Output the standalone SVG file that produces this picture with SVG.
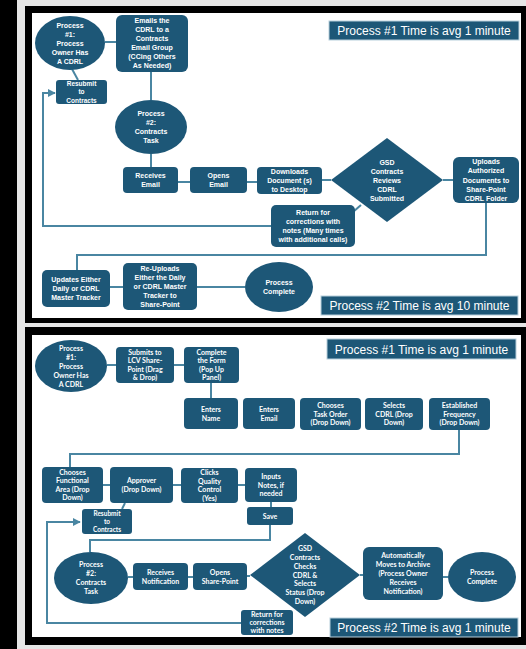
<svg xmlns="http://www.w3.org/2000/svg" width="526" height="649" viewBox="0 0 526 649">
<defs>
<style>
.n{fill:#1d5777;}
.lb{fill:#1d5777;stroke:#b8cfdc;stroke-width:1;}
.t{font-family:"Liberation Sans",Arial,sans-serif;font-size:7px;font-weight:bold;fill:#ffffff;text-anchor:middle;}
.t2{font-family:Lato,"Liberation Sans",sans-serif;font-size:7px;font-weight:bold;fill:#ffffff;text-anchor:middle;}
.lt{font-family:"Liberation Sans",Arial,sans-serif;font-size:12px;fill:#ffffff;text-anchor:middle;}
.c{fill:none;stroke:#4a86a2;stroke-width:2;}
</style>
<marker id="ah" viewBox="0 0 10 10" refX="9" refY="5" markerWidth="4" markerHeight="4" orient="auto">
<path d="M0,0 L10,5 L0,10 z" fill="#4a86a2"/>
</marker>
</defs>
<rect x="0" y="0" width="526" height="649" fill="#e6e6e6"/>
<rect x="0" y="0" width="17" height="649" fill="#000"/>
<rect x="25" y="6" width="501" height="317" fill="#000"/>
<rect x="32" y="13" width="489" height="305" fill="#fff"/>
<rect x="25" y="327" width="501" height="318" fill="#000"/>
<rect x="32" y="335" width="489" height="302" fill="#fff"/>

<g id="connectors">
<line class="c" x1="105" y1="42" x2="116" y2="42"/>
<line class="c" x1="72" y1="69" x2="78" y2="80"/>
<line class="c" x1="151" y1="72" x2="151" y2="100"/>
<line class="c" x1="151" y1="154" x2="151" y2="167"/>
<line class="c" x1="178" y1="182" x2="190" y2="182"/>
<line class="c" x1="247" y1="182" x2="257" y2="182"/>
<line class="c" x1="322" y1="180" x2="331" y2="180"/>
<line class="c" x1="443" y1="180" x2="453" y2="180"/>
<line class="c" x1="361" y1="205" x2="353" y2="212"/>
<path class="c" d="M272,226 H43 V93 H55" marker-end="url(#ah)"/>
<path class="c" d="M486,203 V255 H77 V270"/>
<line class="c" x1="110" y1="287" x2="123" y2="287"/>
<line class="c" x1="197" y1="287" x2="245" y2="287"/>

<line class="c" x1="107" y1="365" x2="116" y2="365"/>
<line class="c" x1="174" y1="365" x2="184" y2="365"/>
<line class="c" x1="211" y1="383" x2="211" y2="398"/>
<path class="c" d="M459,430 V454 H70 V467"/>
<line class="c" x1="103" y1="485" x2="110" y2="485"/>
<line class="c" x1="173" y1="485" x2="181" y2="485"/>
<line class="c" x1="238" y1="485" x2="245" y2="485"/>
<line class="c" x1="271" y1="502" x2="271" y2="507"/>
<line class="c" x1="125" y1="503" x2="122" y2="509"/>
<path class="c" d="M270,525 V540 H90 V552"/>
<path class="c" d="M241,623 H47 V522 H80" marker-end="url(#ah)"/>
<line class="c" x1="128" y1="577" x2="133" y2="577"/>
<line class="c" x1="188" y1="577" x2="193" y2="577"/>
<line class="c" x1="247" y1="576" x2="250" y2="576"/>
<line class="c" x1="360" y1="575" x2="363" y2="575"/>
<line class="c" x1="443" y1="577" x2="448" y2="577"/>
</g>

<!-- Panel 1 -->
<g id="p1-label1"><rect class="lb" x="329" y="21" width="190" height="19"/><text class="lt" x="424" y="35">Process #1 Time is avg 1 minute</text></g>
<g id="p1-process1"><ellipse class="n" cx="70" cy="43" rx="35" ry="27"/>
<text class="t" x="70" y="27.5"><tspan x="70">Process</tspan><tspan x="70" dy="9">#1:</tspan><tspan x="70" dy="9">Process</tspan><tspan x="70" dy="9">Owner Has</tspan><tspan x="70" dy="9">A CDRL</tspan></text></g>
<g id="p1-emails"><rect class="n" x="116" y="15" width="72" height="57" rx="6"/>
<text class="t" x="152" y="23"><tspan x="152">Emails the</tspan><tspan x="152" dy="9">CDRL to a</tspan><tspan x="152" dy="9">Contracts</tspan><tspan x="152" dy="9">Email Group</tspan><tspan x="152" dy="9">(CCing Others</tspan><tspan x="152" dy="9">As Needed)</tspan></text></g>
<g id="p1-resubmit"><rect class="n" x="56" y="80" width="51" height="24" rx="3"/>
<text class="t" x="81.5" y="85.8" style="font-size:6.5px"><tspan x="81.5">Resubmit</tspan><tspan x="81.5" dy="8.5">to</tspan><tspan x="81.5" dy="8.5">Contracts</tspan></text></g>
<g id="p1-process2"><ellipse class="n" cx="151" cy="127" rx="36" ry="27"/>
<text class="t" x="151" y="116"><tspan x="151">Process</tspan><tspan x="151" dy="9">#2:</tspan><tspan x="151" dy="9">Contracts</tspan><tspan x="151" dy="9">Task</tspan></text></g>
<g id="p1-receives"><rect class="n" x="123" y="167" width="55" height="26" rx="4"/>
<text class="t" x="150.5" y="178"><tspan x="150.5">Receives</tspan><tspan x="150.5" dy="9">Email</tspan></text></g>
<g id="p1-opens"><rect class="n" x="190" y="167" width="57" height="26" rx="4"/>
<text class="t" x="218.5" y="178"><tspan x="218.5">Opens</tspan><tspan x="218.5" dy="9">Email</tspan></text></g>
<g id="p1-downloads"><rect class="n" x="257" y="167" width="65" height="27" rx="4"/>
<text class="t" x="289.5" y="174"><tspan x="289.5">Downloads</tspan><tspan x="289.5" dy="9">Document (s)</tspan><tspan x="289.5" dy="9">to Desktop</tspan></text></g>
<g id="p1-gsd"><polygon class="n" points="387,138 443,180 387,222 331,180"/>
<text class="t" x="387" y="164.5"><tspan x="387">GSD</tspan><tspan x="387" dy="9">Contracts</tspan><tspan x="387" dy="9">Reviews</tspan><tspan x="387" dy="9">CDRL</tspan><tspan x="387" dy="9">Submitted</tspan></text></g>
<g id="p1-uploads"><rect class="n" x="453" y="157" width="66" height="46" rx="6"/>
<text class="t" x="486" y="164"><tspan x="486">Uploads</tspan><tspan x="486" dy="9.3">Authorized</tspan><tspan x="486" dy="9.3">Documents to</tspan><tspan x="486" dy="9.3">Share-Point</tspan><tspan x="486" dy="9.3">CDRL Folder</tspan></text></g>
<g id="p1-return"><rect class="n" x="271" y="205" width="84" height="42" rx="5"/>
<text class="t" x="313" y="215"><tspan x="313">Return for</tspan><tspan x="313" dy="9">corrections with</tspan><tspan x="313" dy="9">notes (Many times</tspan><tspan x="313" dy="9">with additional calls)</tspan></text></g>
<g id="p1-updates"><rect class="n" x="42" y="270" width="68" height="37" rx="5"/>
<text class="t" x="76" y="282"><tspan x="76">Updates Either</tspan><tspan x="76" dy="9">Daily or CDRL</tspan><tspan x="76" dy="9">Master Tracker</tspan></text></g>
<g id="p1-reuploads"><rect class="n" x="123" y="263" width="74" height="47" rx="5"/>
<text class="t" x="160" y="271"><tspan x="160">Re-Uploads</tspan><tspan x="160" dy="9">Either the Daily</tspan><tspan x="160" dy="9">or CDRL Master</tspan><tspan x="160" dy="9">Tracker to</tspan><tspan x="160" dy="9">Share-Point</tspan></text></g>
<g id="p1-complete"><ellipse class="n" cx="279" cy="287" rx="34" ry="25"/>
<text class="t" x="279" y="285"><tspan x="279">Process</tspan><tspan x="279" dy="9">Complete</tspan></text></g>
<g id="p1-label2"><rect class="lb" x="321" y="296" width="197" height="19"/><text class="lt" x="419.5" y="310">Process #2 Time is avg 10 minute</text></g>

<!-- Panel 2 -->
<g id="p2-label1"><rect class="lb" x="327" y="339" width="189" height="20"/><text class="lt" x="421.5" y="354">Process #1 Time is avg 1 minute</text></g>
<g id="p2-process1"><ellipse class="n" cx="71" cy="366" rx="36" ry="26"/>
<text class="t2" x="71" y="350.5"><tspan x="71">Process</tspan><tspan x="71" dy="9">#1:</tspan><tspan x="71" dy="9">Process</tspan><tspan x="71" dy="9">Owner Has</tspan><tspan x="71" dy="9">A CDRL</tspan></text></g>
<g id="p2-submits"><rect class="n" x="116" y="347" width="58" height="36" rx="4"/>
<text class="t2" x="145" y="354.8"><tspan x="145">Submits to</tspan><tspan x="145" dy="8.5">LCV Share-</tspan><tspan x="145" dy="8.5">Point (Drag</tspan><tspan x="145" dy="8.5">&amp; Drop)</tspan></text></g>
<g id="p2-complete-form"><rect class="n" x="184" y="347" width="55" height="36" rx="4"/>
<text class="t2" x="211.5" y="354.8"><tspan x="211.5">Complete</tspan><tspan x="211.5" dy="8.5">the Form</tspan><tspan x="211.5" dy="8.5">(Pop Up</tspan><tspan x="211.5" dy="8.5">Panel)</tspan></text></g>
<g id="p2-name"><rect class="n" x="184" y="398" width="54" height="31" rx="4"/>
<text class="t2" x="211" y="411.5"><tspan x="211">Enters</tspan><tspan x="211" dy="9">Name</tspan></text></g>
<g id="p2-email"><rect class="n" x="243" y="398" width="52" height="31" rx="4"/>
<text class="t2" x="269" y="411.5"><tspan x="269">Enters</tspan><tspan x="269" dy="9">Email</tspan></text></g>
<g id="p2-taskorder"><rect class="n" x="300" y="398" width="61" height="32" rx="4"/>
<text class="t2" x="330.5" y="408"><tspan x="330.5">Chooses</tspan><tspan x="330.5" dy="8.5">Task Order</tspan><tspan x="330.5" dy="8.5">(Drop Down)</tspan></text></g>
<g id="p2-selects"><rect class="n" x="365" y="398" width="58" height="32" rx="4"/>
<text class="t2" x="394" y="408"><tspan x="394">Selects</tspan><tspan x="394" dy="8.5">CDRL (Drop</tspan><tspan x="394" dy="8.5">Down)</tspan></text></g>
<g id="p2-frequency"><rect class="n" x="429" y="398" width="61" height="32" rx="4"/>
<text class="t2" x="459.5" y="408"><tspan x="459.5">Established</tspan><tspan x="459.5" dy="8.5">Frequency</tspan><tspan x="459.5" dy="8.5">(Drop Down)</tspan></text></g>
<g id="p2-functional"><rect class="n" x="42" y="467" width="61" height="36" rx="4"/>
<text class="t2" x="72.5" y="474.8"><tspan x="72.5">Chooses</tspan><tspan x="72.5" dy="8.5">Functional</tspan><tspan x="72.5" dy="8.5">Area (Drop</tspan><tspan x="72.5" dy="8.5">Down)</tspan></text></g>
<g id="p2-approver"><rect class="n" x="110" y="467" width="63" height="36" rx="4"/>
<text class="t2" x="141.5" y="483"><tspan x="141.5">Approver</tspan><tspan x="141.5" dy="9">(Drop Down)</tspan></text></g>
<g id="p2-quality"><rect class="n" x="181" y="468" width="57" height="35" rx="4"/>
<text class="t2" x="209.5" y="475.3"><tspan x="209.5">Clicks</tspan><tspan x="209.5" dy="8.5">Quality</tspan><tspan x="209.5" dy="8.5">Control</tspan><tspan x="209.5" dy="8.5">(Yes)</tspan></text></g>
<g id="p2-inputs"><rect class="n" x="245" y="468" width="52" height="34" rx="4"/>
<text class="t2" x="271" y="479"><tspan x="271">Inputs</tspan><tspan x="271" dy="8.5">Notes, if</tspan><tspan x="271" dy="8.5">needed</tspan></text></g>
<g id="p2-save"><rect class="n" x="247" y="507" width="46" height="18" rx="3"/>
<text class="t2" x="270" y="518.5">Save</text></g>
<g id="p2-resubmit"><rect class="n" x="82" y="509" width="50" height="25" rx="3"/>
<text class="t2" x="107" y="515.8" style="font-size:6.5px"><tspan x="107">Resubmit</tspan><tspan x="107" dy="8">to</tspan><tspan x="107" dy="8">Contracts</tspan></text></g>
<g id="p2-process2"><ellipse class="n" cx="91" cy="578" rx="37" ry="26"/>
<text class="t2" x="91" y="567"><tspan x="91">Process</tspan><tspan x="91" dy="9">#2:</tspan><tspan x="91" dy="9">Contracts</tspan><tspan x="91" dy="9">Task</tspan></text></g>
<g id="p2-receives"><rect class="n" x="133" y="563" width="55" height="27" rx="4"/>
<text class="t2" x="160.5" y="574.5"><tspan x="160.5">Receives</tspan><tspan x="160.5" dy="9">Notification</tspan></text></g>
<g id="p2-opens"><rect class="n" x="193" y="563" width="54" height="27" rx="4"/>
<text class="t2" x="220" y="574.5"><tspan x="220">Opens</tspan><tspan x="220" dy="9">Share-Point</tspan></text></g>
<g id="p2-gsd"><polygon class="n" points="305,533 360,575 305,617 250,575"/>
<text class="t2" x="305" y="551.1"><tspan x="305">GSD</tspan><tspan x="305" dy="8.8">Contracts</tspan><tspan x="305" dy="8.8">Checks</tspan><tspan x="305" dy="8.8">CDRL &amp;</tspan><tspan x="305" dy="8.8">Selects</tspan><tspan x="305" dy="8.8">Status (Drop</tspan><tspan x="305" dy="8.8">Down)</tspan></text></g>
<g id="p2-archive"><rect class="n" x="363" y="547" width="80" height="53" rx="6"/>
<text class="t2" x="403" y="558"><tspan x="403">Automatically</tspan><tspan x="403" dy="9">Moves to Archive</tspan><tspan x="403" dy="9">(Process Owner</tspan><tspan x="403" dy="9">Receives</tspan><tspan x="403" dy="9">Notification)</tspan></text></g>
<g id="p2-complete"><ellipse class="n" cx="482" cy="577" rx="34" ry="25"/>
<text class="t2" x="482" y="575"><tspan x="482">Process</tspan><tspan x="482" dy="9">Complete</tspan></text></g>
<g id="p2-return"><rect class="n" x="241" y="610" width="52" height="25" rx="3"/>
<text class="t2" x="267" y="617"><tspan x="267">Return for</tspan><tspan x="267" dy="8">corrections</tspan><tspan x="267" dy="8">with notes</tspan></text></g>
<g id="p2-label2"><rect class="lb" x="330" y="618" width="188" height="19"/><text class="lt" x="424" y="632">Process #2 Time is avg 1 minute</text></g>
</svg>
